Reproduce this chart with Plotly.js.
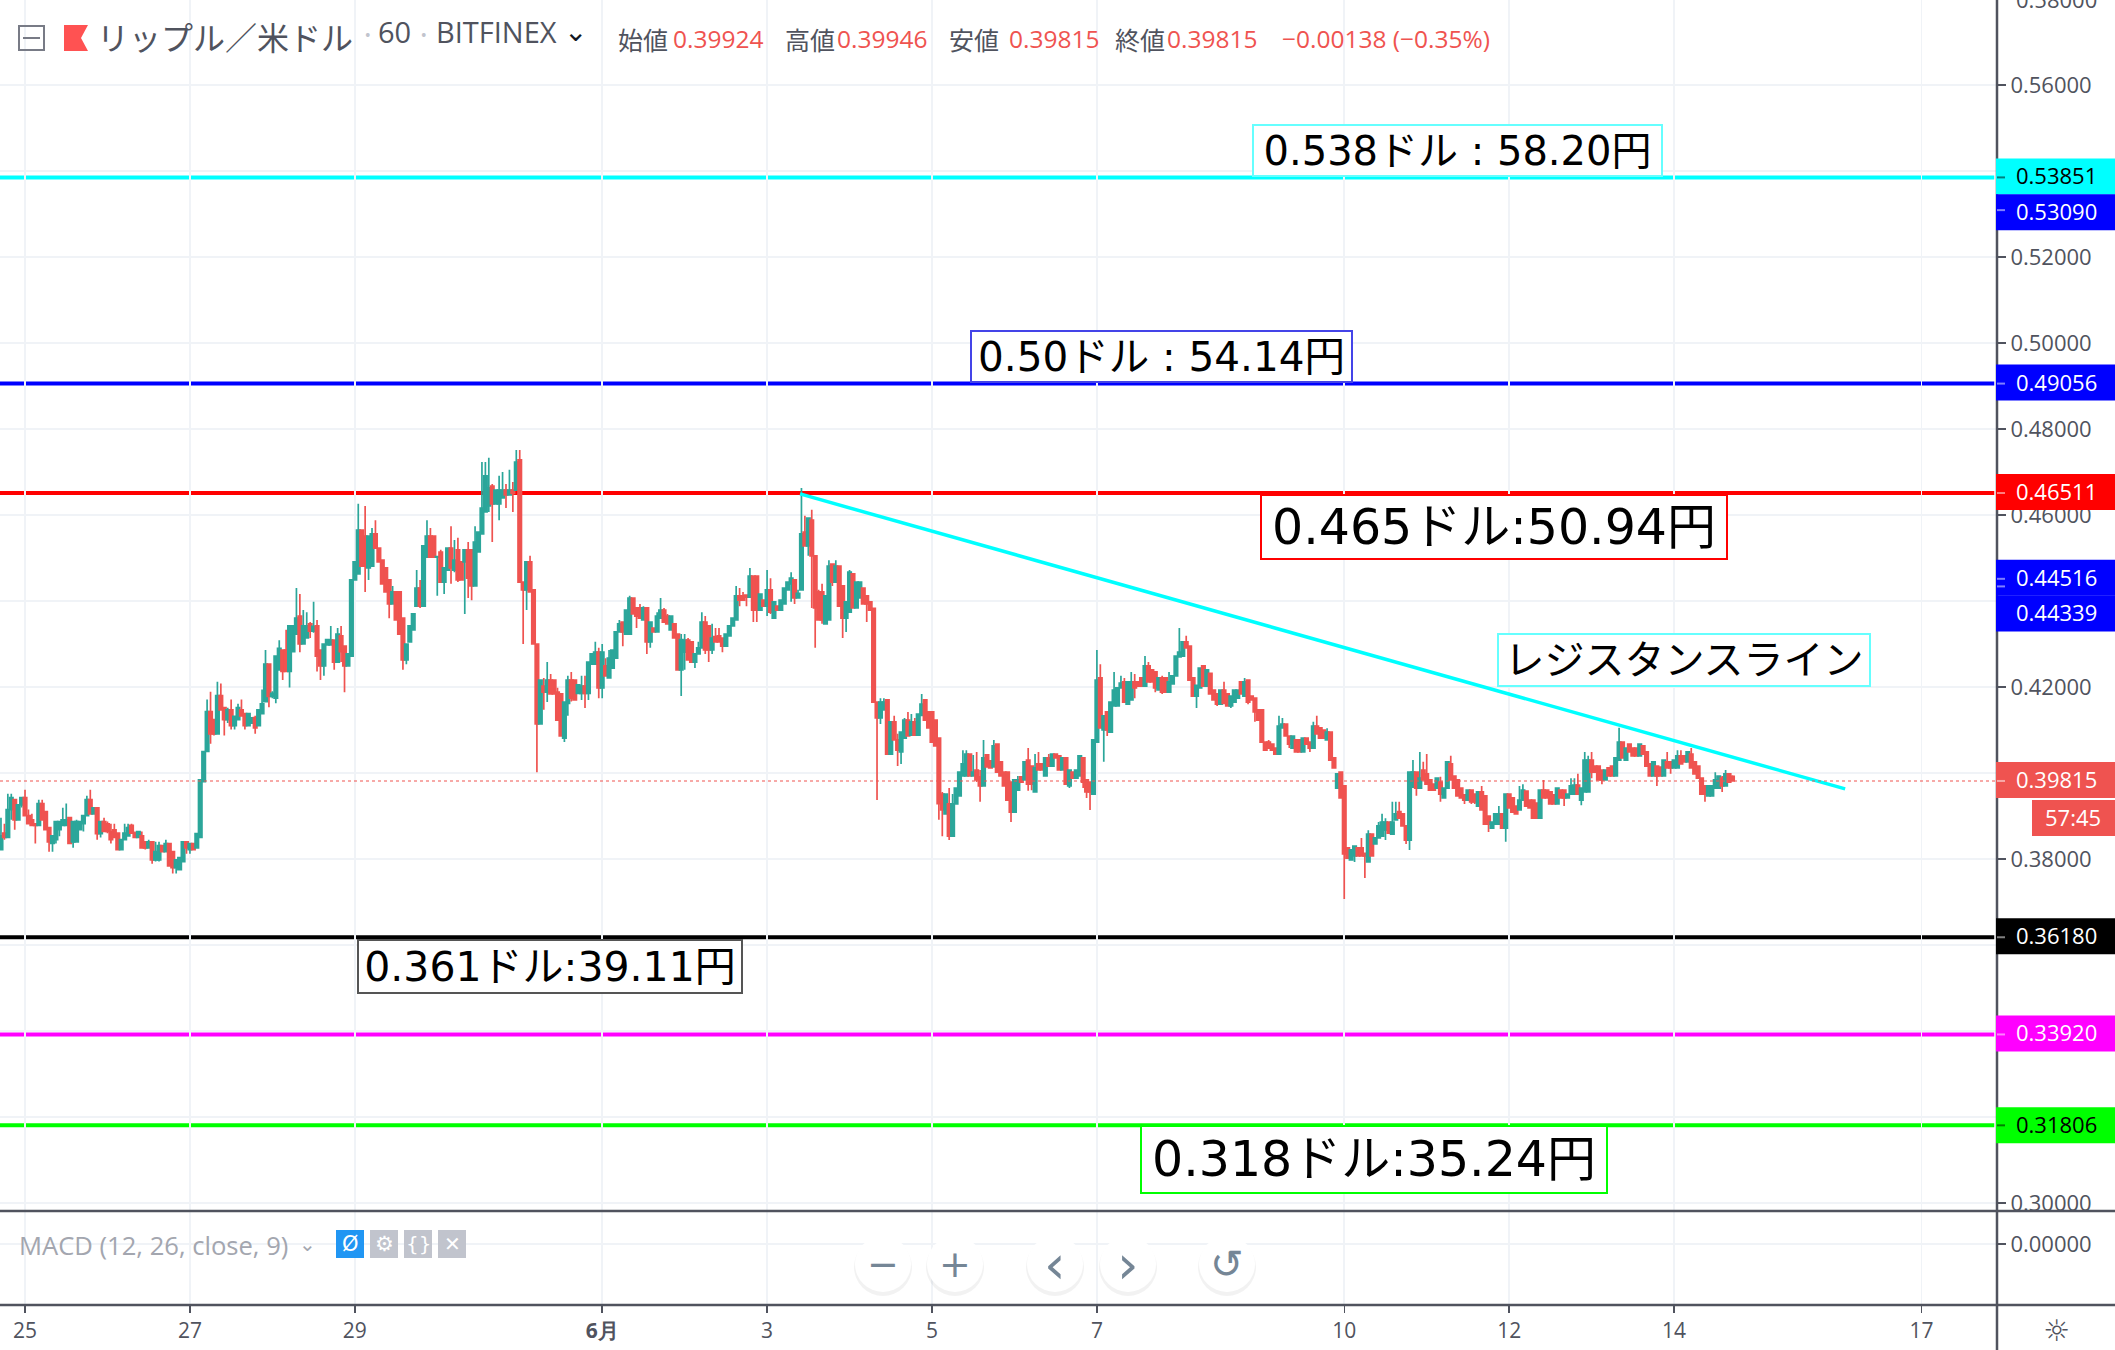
<!DOCTYPE html>
<html><head><meta charset="utf-8">
<script src="https://cdn.plot.ly/plotly-3.0.1.min.js"></script>
<style>html,body{margin:0;padding:0;background:#fff}</style></head>
<body><div id="chart" style="width:2115px;height:1350px"></div>
<script>
const opens=[
.3822,.386,.385,.3915,.3938,.3891,.3926,.3943,.3901,.3891,
.3882,.3878,.3929,.391,.3873,.3836,.3845,.3868,.3878,.3878,
.3896,.384,.384,.3868,.3882,.3901,.3938,.3905,.3919,.3859,
.3887,.3882,.3864,.3868,.386,.3822,.3845,.3854,.3878,.386,
.385,.3854,.384,.3826,.384,.3798,.3798,.3831,.3817,.3836,
.3817,.378,.3775,.3794,.384,.3822,.3836,.3826,.385,.398,
.405,.4143,.4124,.4091,.418,.4152,.4124,.4147,.411,.4124,
.4147,.4138,.411,.4116,.4129,.411,.4138,.4166,.4253,.4178,
.4174,.424,.4286,.4286,.4236,.4282,.4323,.4365,.43,.4314,
.4347,.433,.4342,.4286,.4249,.4298,.4298,.4309,.4258,.4319,
.4295,.4249,.4272,.4449,.4463,.4565,.4551,.4477,.4481,.4556,
.4523,.4495,.4477,.4449,.4393,.4421,.4421,.436,.4263,.4305,
.4333,.4388,.443,.4388,.4502,.4551,.4551,.4502,.4514,.4444,
.4472,.4523,.4472,.4519,.4491,.4491,.4519,.4519,.4435,.4514,
.4556,.4607,.4621,.4667,.4626,.4626,.464,.4658,.4647,.4658,
.4658,.4728,.4444,.4426,.4491,.4426,.43,.4114,.4202,.4188,
.4216,.4216,.4188,.4184,.4081,.4162,.4216,.4216,.4185,.4185,
.4202,.4185,.4253,.4253,.4281,.4198,.4249,.4221,.4244,.4267,
.4328,.4351,.4323,.4323,.4407,.4384,.4384,.4356,.4384,.4305,
.4337,.4328,.436,.4379,.4365,.4333,.4347,.4323,.424,.4281,
.4309,.4305,.4258,.4277,.4291,.4351,.4342,.4286,.4317,.4319,
.4314,.4295,.4319,.4342,.4356,.4412,.4412,.4414,.4409,.4458,
.4458,.4379,.4402,.4388,.4426,.436,.4388,.4379,.4393,.4426,
.444,.4449,.4407,.4426,.456,.4528,.4588,.4505,.4421,.4421,
.4347,.4356,.4486,.4444,.4481,.4435,.436,.4374,.4463,.4384,
.4407,.443,.4412,.4398,.4383,.4165,.4128,.4147,.417,.4044,
.4119,.4077,.4049,.4081,.4123,.4088,.4119,.4088,.4134,.417,
.4142,.4142,.4123,.4081,.3951,.3905,.3928,.3853,.3928,.3947,
.3993,.3993,.4044,.3993,.4007,.3991,.397,.4042,.4028,.4014,
.4067,.4026,.4002,.4002,.3979,.3909,.396,.3991,.3984,.403,
.4016,.3956,.4021,.4021,.3993,.4035,.4016,.4044,.404,.4007,
.4035,.397,.4002,.3988,.3993,.4035,.3984,.3979,.3951,.4072,
.4221,.41,.4142,.4095,.4156,.4156,.4198,.4212,.416,.417,
.4212,.4212,.4221,.4202,.4249,.424,.4235,.4193,.4221,.4221,
.4188,.4207,.4226,.427,.4272,.4305,.4295,.4221,.4179,.4198,
.4249,.4202,.4232,.4193,.4184,.416,.4193,.4184,.4156,.4165,
.4174,.4212,.4179,.4216,.4179,.4174,.4147,.4147,.4072,.4072,
.4067,.4058,.4044,.4105,.4114,.4086,.4058,.4077,.4077,.4049,
.4081,.4072,.4058,.4109,.4105,.41,.4077,.4095,.4035,.3965,
.4002,.397,.3826,.3798,.3807,.3826,.3826,.3813,.3793,.3858,
.3835,.3849,.3853,.3867,.3886,.3858,.3891,.391,.3905,.3877,
.3844,.3967,.4002,.3965,.4007,.3998,.3984,.3974,.3965,.3979,
.3942,.3965,.4021,.3993,.3984,.3965,.3949,.3937,.396,.3951,
.3923,.3956,.3947,.39,.3872,.3881,.3881,.3905,.3872,.3951,
.3942,.3923,.3914,.3937,.3958,.3937,.3937,.393,.3895,.396,
.396,.3956,.3949,.3928,.396,.396,.3942,.3951,.3951,.3972,
.3937,.3956,.3956,.403,.4016,.4016,.4007,.3984,.4012,.4016,
.3993,.403,.4072,.403,.4067,.4058,.4058,.404,.4063,.4049,
.4021,.3993,.4016,.4014,.3993,.4026,.4026,.4012,.4012,.404,
.404,.4026,.4044,.4026,.4016,.3988,.397,.3947,.3947,.3965,
.3965,.3988,.397,.3998,.39924];
const highs=[
.3896,.3882,.3952,.3952,.3938,.3926,.3943,.3961,.3915,.3905,
.3884,.3938,.3938,.391,.3873,.3854,.3887,.3887,.3919,.3929,
.3896,.3887,.3891,.3887,.3901,.3947,.3961,.3919,.3919,.3887,
.3896,.3887,.3882,.3882,.386,.3845,.3882,.3882,.3882,.3864,
.3864,.3864,.384,.3845,.384,.384,.384,.3831,.3845,.3836,
.3817,.3798,.3803,.384,.384,.3836,.3836,.3859,.3984,.405,
.4171,.4189,.4124,.4212,.4208,.4152,.4152,.4171,.4132,.4161,
.4171,.4138,.4138,.4128,.4133,.4147,.4194,.4286,.4253,.419,
.4272,.4309,.4286,.4333,.4342,.4342,.443,.4416,.4379,.4374,
.4351,.4398,.4356,.4286,.43,.431,.4342,.4309,.4337,.4342,
.4295,.4277,.4449,.4491,.4626,.4565,.4621,.4551,.457,.4588,
.4523,.4495,.4477,.4449,.4435,.4421,.4421,.436,.43,.4342,
.437,.4472,.4449,.4528,.4588,.457,.4551,.4503,.4519,.4477,
.4523,.4574,.4542,.4547,.4491,.4519,.4537,.4519,.4574,.456,
.4723,.4723,.4733,.4672,.4658,.4691,.47,.4672,.4705,.4677,
.4751,.4751,.4444,.4491,.4505,.4426,.43,.4216,.4221,.4258,
.423,.4216,.4198,.4184,.4165,.4226,.4235,.4216,.4205,.4226,
.4226,.4258,.4277,.4305,.4291,.43,.4267,.4286,.4286,.4328,
.4356,.4351,.4379,.4412,.4407,.4384,.4393,.4388,.4384,.4351,
.4337,.4374,.4407,.4384,.437,.4365,.4347,.4323,.4323,.4323,
.4314,.4305,.4277,.4305,.4374,.4365,.4342,.4347,.4337,.4337,
.4314,.4323,.4342,.436,.4435,.443,.4421,.4414,.4477,.4458,
.4458,.4416,.4402,.4472,.4453,.4398,.4388,.4402,.443,.4444,
.4467,.4449,.4418,.4663,.4598,.4593,.4612,.4505,.4426,.444,
.4412,.4495,.4486,.4495,.4481,.4435,.4398,.4472,.4463,.4444,
.4444,.443,.4412,.4398,.4383,.4165,.4174,.4174,.417,.4119,
.4133,.4091,.4095,.4128,.4142,.4137,.4128,.4137,.4184,.417,
.4142,.4142,.4123,.4081,.3956,.3951,.3965,.3951,.3965,.4002,
.4053,.4053,.4044,.4042,.4049,.4007,.4077,.4042,.4028,.4077,
.4067,.4026,.4002,.4002,.3979,.3984,.3993,.3991,.4026,.4058,
.4016,.4044,.4049,.4021,.4035,.4044,.4044,.4044,.404,.4035,
.4035,.4007,.4002,.4007,.404,.4035,.3984,.3979,.4077,.4286,
.4253,.4133,.4142,.4165,.4235,.4198,.4226,.4221,.4212,.4235,
.423,.4212,.4221,.4272,.4258,.424,.4235,.4221,.4226,.4221,
.4235,.4226,.4272,.4337,.4305,.4319,.4295,.4221,.4204,.4244,
.4249,.424,.4232,.4193,.4184,.4193,.4212,.4184,.4179,.4193,
.4193,.4212,.4221,.4216,.4179,.4174,.4147,.4147,.4072,.4077,
.4067,.4058,.4133,.4128,.4114,.4086,.4086,.4077,.4077,.4081,
.4081,.4072,.4119,.4133,.4105,.41,.4104,.4095,.4035,.3998,
.4002,.397,.3826,.3821,.383,.3826,.3849,.3813,.3867,.3858,
.3849,.3886,.3905,.3895,.3886,.3933,.3933,.3933,.3905,.3877,
.4002,.403,.4002,.4049,.4026,.4044,.3984,.3974,.3988,.3991,
.3965,.4026,.404,.3993,.3984,.3965,.3949,.396,.396,.3951,
.3956,.397,.3947,.39,.3886,.3905,.3923,.3905,.3951,.3951,
.3942,.3923,.397,.3974,.3958,.3937,.3937,.393,.396,.3984,
.396,.3956,.3949,.3965,.396,.396,.3951,.3988,.3988,.3998,
.3965,.4049,.404,.4049,.4016,.4016,.4007,.4007,.4012,.4016,
.4035,.4105,.4072,.4058,.4067,.4058,.4058,.4067,.4063,.4049,
.4021,.4026,.4016,.4014,.403,.4049,.4026,.403,.4053,.4053,
.404,.4049,.4058,.4026,.4016,.3988,.397,.397,.397,.4002,
.3993,.3993,.4007,.3998,.39946];
const lows=[
.3822,.3845,.385,.3891,.3868,.3891,.392,.3901,.3882,.3878,
.3836,.3878,.3891,.3868,.3817,.3817,.3836,.3853,.3878,.3878,
.3836,.3826,.384,.3868,.3864,.3901,.3905,.3905,.3845,.385,
.3864,.386,.3836,.385,.3822,.3822,.3845,.3854,.386,.385,
.385,.3826,.3822,.3826,.3789,.3794,.3794,.3817,.3817,.3784,
.3766,.3766,.3775,.3794,.3812,.3812,.3822,.3826,.385,.398,
.405,.4068,.4087,.4091,.4147,.4087,.4116,.4101,.4101,.4124,
.4133,.4101,.411,.4116,.4091,.411,.4138,.4166,.4153,.4174,
.4162,.424,.4216,.4236,.4199,.4282,.4323,.4281,.43,.4314,
.4314,.4326,.4236,.4216,.4226,.4298,.4298,.424,.4258,.4258,
.4188,.4249,.4272,.4449,.4463,.4481,.4421,.4449,.4481,.4523,
.4491,.444,.4421,.436,.4393,.4356,.4323,.424,.4253,.4305,
.4333,.4388,.4384,.4388,.4502,.4502,.4502,.4412,.4444,.4416,
.4472,.444,.4467,.4444,.4449,.437,.4407,.4402,.4435,.4514,
.4556,.4607,.4607,.4537,.4626,.4588,.464,.4616,.4647,.4607,
.4658,.4444,.43,.4379,.4421,.43,.4002,.4114,.4147,.4165,
.4184,.4184,.4123,.4086,.4072,.4133,.4166,.417,.4185,.417,
.4151,.417,.4253,.4253,.4174,.4174,.4226,.4221,.4244,.4267,
.4328,.4295,.4323,.4323,.437,.4337,.436,.4356,.4277,.4291,
.4328,.4328,.436,.4351,.4351,.4347,.4314,.4314,.4179,.424,
.4263,.4258,.4244,.4277,.4291,.4277,.4258,.4277,.4305,.4305,
.4281,.4295,.4319,.4342,.4356,.4388,.4402,.4388,.4409,.4351,
.4351,.4379,.4388,.4365,.437,.436,.4379,.4393,.4426,.444,
.4398,.4393,.4426,.4528,.4528,.4505,.4384,.4291,.4356,.4347,
.4347,.4356,.4435,.4444,.4388,.4314,.4328,.4374,.4384,.4384,
.4407,.4393,.4351,.4379,.4165,.3937,.4114,.4147,.4044,.4044,
.4077,.4016,.4021,.4081,.4086,.4088,.4086,.4088,.4134,.4123,
.4105,.4072,.4063,.3891,.3853,.3905,.3844,.3853,.3928,.3947,
.3993,.3993,.3993,.3993,.3979,.3933,.397,.4014,.4012,.4014,
.4002,.3993,.397,.3937,.3886,.3909,.396,.3979,.3984,.3959,
.396,.3956,.4007,.4007,.3993,.4016,.4016,.4035,.4007,.4007,
.3974,.3965,.3988,.3988,.3993,.3965,.3942,.3914,.3951,.4072,
.4105,.4026,.4086,.4095,.4156,.4156,.4198,.4165,.416,.417,
.4174,.4202,.4202,.4202,.4212,.4212,.4188,.4193,.4184,.4188,
.4188,.4207,.4226,.427,.4272,.4291,.4216,.4179,.4151,.4198,
.4202,.4202,.4184,.417,.4156,.416,.4162,.4156,.4151,.4165,
.4174,.4184,.4179,.416,.417,.4119,.4123,.4072,.4053,.4058,
.4053,.4044,.4044,.4105,.4086,.4058,.4058,.4049,.4049,.4049,
.4067,.4049,.4058,.4091,.4081,.4081,.4077,.403,.4012,.3965,
.3942,.3707,.3802,.3798,.3793,.3807,.3807,.3756,.3793,.3807,
.3835,.3849,.3853,.3844,.386,.3858,.3891,.3895,.3877,.3835,
.3821,.3967,.3947,.3965,.3984,.3974,.396,.396,.3965,.3933,
.3942,.3965,.3984,.3965,.3947,.3942,.3928,.3937,.3928,.3928,
.3923,.3914,.3881,.3863,.3872,.3881,.3881,.3872,.384,.3919,
.3909,.3905,.3914,.3937,.3923,.3919,.3895,.3895,.3895,.3942,
.3942,.3928,.3928,.3928,.3942,.3923,.3942,.3951,.3951,.3951,
.3925,.3956,.3956,.3988,.4002,.3984,.3974,.3984,.3993,.3993,
.3993,.403,.4035,.403,.4049,.404,.404,.404,.4044,.4016,
.3993,.3993,.397,.3993,.3993,.4012,.3998,.4012,.4012,.4021,
.4026,.4026,.4012,.3998,.3988,.3951,.3933,.3947,.3947,.3965,
.3965,.3956,.397,.3979,.39815];
const closes=[
.3854,.385,.3915,.3943,.3891,.3926,.3943,.3901,.3882,.3878,
.3878,.3929,.3891,.3868,.384,.3854,.3887,.3887,.3891,.3891,
.3836,.3887,.3887,.3887,.3901,.3938,.3905,.3919,.3859,.3887,
.3864,.3864,.3845,.385,.3822,.3845,.386,.3873,.386,.385,
.3864,.3826,.3826,.384,.3798,.3817,.3831,.3817,.3836,.3784,
.378,.3798,.3803,.384,.3826,.3836,.3822,.3859,.3984,.405,
.4143,.4091,.4091,.418,.4147,.4124,.4147,.411,.4132,.4152,
.4133,.411,.4138,.4128,.4105,.4147,.4161,.4253,.4178,.4185,
.4272,.429,.4236,.4236,.4342,.4342,.436,.43,.4342,.4342,
.433,.4341,.4272,.4249,.43,.431,.4309,.4258,.4323,.4282,
.4249,.4277,.4449,.4491,.4565,.4481,.4481,.4551,.4556,.4523,
.4491,.444,.4421,.4393,.4421,.4356,.4323,.4263,.43,.4342,
.437,.443,.4388,.4528,.4551,.4502,.4502,.4503,.4444,.4477,
.4523,.4477,.4495,.4449,.4449,.4519,.4453,.4435,.4537,.456,
.4616,.4691,.4663,.4626,.4658,.4658,.4658,.4647,.4658,.465,
.4723,.4444,.4426,.4491,.4421,.43,.4114,.4216,.4188,.4216,
.4184,.4184,.4123,.4086,.4165,.4216,.4174,.417,.4205,.4202,
.4185,.4258,.4277,.4281,.4198,.4281,.4226,.4267,.4286,.4328,
.4347,.4328,.4379,.4407,.437,.4365,.436,.4384,.4305,.4351,
.4328,.4365,.4379,.4351,.4347,.4365,.4314,.424,.431,.4309,
.4263,.4258,.4277,.4291,.4351,.4286,.4286,.4314,.4305,.4305,
.4295,.4323,.4342,.436,.4412,.4402,.4402,.4409,.4458,.4379,
.4379,.4416,.4388,.4426,.4374,.4398,.4379,.4402,.443,.4444,
.4453,.4407,.4418,.4556,.4528,.4593,.4505,.4384,.4356,.4356,
.4412,.4481,.4444,.4481,.4388,.436,.4398,.4467,.4384,.4444,
.4444,.4393,.4393,.4379,.4165,.4128,.4165,.4165,.4044,.4119,
.4077,.4053,.4095,.4123,.4086,.4119,.4088,.4137,.416,.4123,
.4105,.4072,.4063,.3929,.3914,.3951,.3853,.3928,.3965,.4002,
.4021,.4044,.3993,.4002,.3984,.397,.4035,.4014,.4012,.4063,
.4002,.3993,.397,.3937,.3909,.3984,.3984,.3979,.4026,.3974,
.3974,.4012,.4007,.4007,.4035,.4016,.4044,.4035,.4007,.4035,
.3974,.4007,.3988,.4007,.404,.3979,.3956,.3956,.4077,.4216,
.4105,.4133,.41,.4165,.4193,.4198,.4209,.4165,.4212,.4212,
.4198,.4202,.4202,.4249,.4212,.4212,.4198,.4221,.4188,.4188,
.4212,.4226,.4272,.4281,.4305,.4291,.4216,.4179,.4204,.4244,
.4202,.424,.4184,.417,.416,.4193,.4162,.4156,.4179,.4193,
.4193,.4184,.4212,.4165,.417,.4142,.4123,.4072,.4053,.4058,
.4053,.4044,.4109,.4114,.4086,.4067,.4086,.4049,.4049,.4081,
.4067,.4058,.4109,.4091,.4081,.4081,.4095,.403,.4012,.3998,
.3942,.3812,.3802,.3821,.383,.3807,.3807,.3807,.3858,.3807,
.3849,.3877,.3886,.3886,.386,.3886,.3905,.3895,.3877,.3844,
.4002,.4002,.3965,.3988,.3984,.3974,.396,.396,.3988,.3951,
.3965,.4026,.3984,.3965,.3947,.3942,.3937,.396,.3933,.3933,
.3956,.3914,.3881,.3881,.3886,.3905,.3905,.3872,.3951,.3919,
.3909,.3905,.3937,.396,.3923,.3919,.3895,.3895,.396,.3942,
.3942,.3928,.3928,.3965,.3942,.3942,.3951,.397,.3972,.3951,
.3965,.403,.403,.4002,.4002,.3984,.3984,.4007,.3993,.3993,
.4035,.4072,.4035,.4058,.4049,.404,.404,.4067,.4044,.4016,
.3993,.4026,.3993,.3993,.403,.4012,.4012,.403,.404,.4021,
.4026,.4049,.4012,.3998,.3988,.3951,.3951,.397,.397,.3984,
.3993,.397,.3998,.3979,.39815];

const tickDates=['2019-05-25','2019-05-27','2019-05-29','2019-06-01','2019-06-03','2019-06-05','2019-06-07','2019-06-10','2019-06-12','2019-06-14','2019-06-17'];
const tickNames=['25','27','29','<b>6月</b>','3','5','7','10','12','14','17'];
const priceTicks=[.30,.32,.34,.36,.38,.40,.42,.44,.46,.48,.50,.52,.54,.56];
const priceTickLabels=['0.30000','','','','0.38000','','0.42000','','0.46000','0.48000','0.50000','0.52000','','0.56000'];
const tagValues=[.53851,.5309,.49056,.46511,.44516,.44339,.39815,.3618,.3392,.31806];
const tagFills=['#00ffff','#0000ff','#0000ff','#ff0000','#0000ff','#0000ff','#ef5350','#000000','#ff00ff','#00ff00'];
const tagInks=['#000000','#ffffff','#ffffff','#ffffff','#ffffff','#ffffff','#ffffff','#ffffff','#ffffff','#000000'];
const tagShifts=[-1,2,-1,-1,-1,27,-1,-1,-1,0];
const levelValues=[.53851,.49056,.46511,.3618,.3392,.31806];
const levelColors=['#00ffff','#0000ff','#ff0000','#000000','#ff00ff','#00ff00'];
const trendTimes=['2019-06-03 09:36','2019-06-16 01:48'];
const trendPrices=[.4649,.3963];
const notes=[
 ['0.538ドル : 58.20円','#66ffff',1252,124,411,53,40],
 ['0.50ドル : 54.14円','#4444e8',970,330,383,53,40.5],
 ['0.465ドル:50.94円','#ff0000',1260,494,468,66,49],
 ['レジスタンスライン','#66ffff',1497,633,374,54,40],
 ['0.361ドル:39.11円','#555555',357,939,386,55,41],
 ['0.318ドル:35.24円','#00ff00',1140,1125,468,69,49]
];

const W=2115,H=1350,axisX=1997,paneBottom=1211,subBottom=1305;
const px=x=>x/W, py=y=>1-y/H;
const CJK='"Noto Sans CJK JP", sans-serif', LAT='"Open Sans", sans-serif', NOTE='"DejaVu Sans","Noto Sans CJK JP", sans-serif';
const pxPerUnit=4300;
const yTop=.56+85/pxPerUnit, yBottom=.56-(paneBottom-85)/pxPerUnit;
const start=Date.UTC(2019,4,24,17);
const hour=3600000;
const stamp=ms=>new Date(ms).toISOString().slice(0,16).replace('T',' ');
const times=opens.map((_,i)=>stamp(start+i*hour));
const may25=Date.UTC(2019,4,25);
const xLeft=stamp(may25-7.28*hour), xRight=stamp(may25+574*hour), lineEnd=stamp(may25+573.2*hour);

const candle={type:'candlestick',x:times,open:opens,high:highs,low:lows,close:closes,xaxis:'x',yaxis:'y',
 increasing:{line:{color:'#2ba69a',width:1.7},fillcolor:'#2ba69a'},
 decreasing:{line:{color:'#ef5350',width:1.7},fillcolor:'#ef5350'},
 whiskerwidth:0,hoverinfo:'skip',showlegend:false};
const trend={type:'scatter',mode:'lines',x:trendTimes,y:trendPrices,xaxis:'x',yaxis:'y',line:{color:'#00ffff',width:3.5},hoverinfo:'skip',showlegend:false};
const macd={type:'scatter',mode:'lines',x:[times[0]],y:[0],xaxis:'x',yaxis:'y2',line:{color:'rgba(0,0,0,0)'},hoverinfo:'skip',showlegend:false};

const shapes=[];
levelValues.forEach((v,i)=>shapes.push({type:'line',layer:'below',xref:'x',yref:'y',x0:xLeft,x1:lineEnd,y0:v,y1:v,line:{color:levelColors[i],width:4}}));
shapes.push({type:'line',layer:'above',xref:'x',yref:'y',x0:xLeft,x1:xRight,y0:.39815,y1:.39815,line:{color:'rgba(239,83,80,.5)',width:2,dash:'dot'}});
const pline=(x0,y0,x1,y1,c,w)=>({type:'line',xref:'paper',yref:'paper',x0:px(x0),x1:px(x1),y0:py(y0),y1:py(y1),line:{color:c,width:w}});
const prect=(x0,y0,x1,y1,f,c,w)=>({type:'rect',xref:'paper',yref:'paper',x0:px(x0),x1:px(x1),y0:py(y0),y1:py(y1),fillcolor:f,line:{color:c||f,width:w||0}});
const pcirc=(cx,cy,r,f,c,w)=>({type:'circle',xref:'paper',yref:'paper',x0:px(cx-r),x1:px(cx+r),y0:py(cy-r),y1:py(cy+r),fillcolor:f,line:{color:c||f,width:w||0}});
shapes.push(pline(0,paneBottom,W,paneBottom,'#50535e',2.5));
shapes.push(pline(0,subBottom,W,subBottom,'#50535e',2.5));
shapes.push(pline(axisX,0,axisX,H,'#50535e',2.5));
tagValues.forEach((v,i)=>{
 const s=tagShifts[i];
 shapes.push({type:'rect',xref:'paper',yref:'y',x0:px(1996),x1:1,y0:v-(s+18)/pxPerUnit,y1:v-(s-18)/pxPerUnit,fillcolor:tagFills[i],line:{width:0}});
 shapes.push({type:'line',xref:'paper',yref:'y',x0:px(1997),x1:px(2005),y0:v,y1:v,line:{color:tagInks[i],width:2},opacity:.5});
});
shapes.push(prect(2032,800,W,836,'#ef5350'));
// header icons
shapes.push(prect(19,26,44,50,'rgba(0,0,0,0)','#787b86',2));
shapes.push(pline(23,38,40,38,'#787b86',2));
shapes.push({type:'path',xref:'paper',yref:'paper',path:`M${px(64)},${py(25)} L${px(88)},${py(25)} L${px(81)},${py(38)} L${px(88)},${py(51)} L${px(64)},${py(51)} Z`,fillcolor:'#ff5252',line:{width:0}});
// macd buttons
[[336,'#2196f3'],[370,'#c1c4cd'],[404,'#c1c4cd'],[438,'#c1c4cd']].forEach(b=>shapes.push(prect(b[0],1230,b[0]+28,1258,b[1])));
// nav buttons
const navX=[883,955,1055,1128,1227];
navX.forEach(x=>{shapes.push(pcirc(x,1267,29,'rgba(0,0,0,.05)'));shapes.push(pcirc(x,1264,28,'#ffffff'));});

const ann=[];
const T=(x,y,text,size,color,anchor,family)=>ann.push({xref:'paper',yref:'paper',x:px(x),y:py(y),text,showarrow:false,xanchor:anchor||'left',yanchor:'middle',font:{size,color,family:family||CJK}});
T(95,36,'リップル／米ドル',32,'#50535e');
T(358,33,'·',28,'#c1c4cd');
T(376,32,'60',29,'#50535e','left',LAT);
T(414,33,'·',28,'#c1c4cd');
T(434,32,'BITFINEX',29,'#50535e','left',LAT);
T(575,31,'⌄',28,'#131722','center','"DejaVu Sans"');
[['始値',616,'0.39924',671],['高値',783,'0.39946',835],['安値',947,'0.39815',1007],['終値',1113,'0.39815',1165]].forEach(r=>{
 T(r[1],39,r[0],25,'#50535e');
 T(r[3],39,r[2],24.5,'#ef5350','left',LAT);
});
T(1280,39,'−0.00138 (−0.35%)',24.5,'#ef5350','left',LAT);
T(17,1245,'MACD (12, 26, close, 9)',25.6,'#a3a6af','left',LAT);
T(307,1244,'⌄',20,'#a3a6af','center','"DejaVu Sans"');
T(350,1244,'Ø',21,'#ffffff','center','"DejaVu Sans"');
T(384,1244,'⚙',21,'#ffffff','center','"DejaVu Sans"');
T(418,1244,'{}',20,'#ffffff','center','"DejaVu Sans"');
T(452,1244,'✕',20,'#ffffff','center','"DejaVu Sans"');
['−','+','‹','›','↺'].forEach((g,i)=>T(navX[i],1264,g,i==2||i==3?54:i==4?40:38,'#758696','center','"DejaVu Sans"'));
T(2056,1330,'☼',30,'#50535e','center','"DejaVu Sans"');
T(2056,-1,'0.58000',22,'#50535e','center',LAT);
T(2073,817,'57:45',22,'#ffffff','center',LAT);
tagValues.forEach((v,i)=>ann.push({xref:'paper',yref:'y',x:px(2056),y:v,yshift:-tagShifts[i]+1,text:tagValues[i].toFixed(5),showarrow:false,xanchor:'center',yanchor:'middle',font:{size:22,color:tagInks[i],family:LAT}}));
notes.forEach(n=>ann.push({xref:'paper',yref:'paper',x:px(n[2]),y:py(n[3]),width:n[4]-4,height:n[5]-4,xanchor:'left',yanchor:'top',align:'center',valign:'middle',text:n[0],showarrow:false,bgcolor:'#ffffff',bordercolor:n[1],borderwidth:2,borderpad:0,font:{size:n[6],color:'#000000',family:NOTE}}));

const layout={width:W,height:H,margin:{l:0,r:0,t:0,b:0},paper_bgcolor:'#fff',plot_bgcolor:'#fff',showlegend:false,boxgap:0,boxgroupgap:0,
 xaxis:{type:'date',domain:[0,axisX/W],anchor:'y2',range:[xLeft,xRight],rangeslider:{visible:false},tickmode:'array',tickvals:tickDates,ticktext:tickNames,
  showgrid:true,gridcolor:'#f0f3f7',gridwidth:1.6,ticks:'outside',ticklen:7,tickwidth:1.5,tickcolor:'#50535e',showline:false,zeroline:false,automargin:false,
  tickangle:0,tickfont:{size:21,color:'#50535e',family:LAT}},
 yaxis:{domain:[1-paneBottom/H,1],anchor:'x',side:'right',range:[yBottom,yTop],tickmode:'array',tickvals:priceTicks,ticktext:priceTickLabels,
  showgrid:true,gridcolor:'#f0f3f7',gridwidth:1.6,ticks:'outside',ticklen:8,tickwidth:2,tickcolor:'#50535e',showline:false,zeroline:false,automargin:false,
  tickfont:{size:22,color:'#50535e',family:LAT}},
 yaxis2:{domain:[1-subBottom/H,1-paneBottom/H],anchor:'x',side:'right',range:[-61,33],tickmode:'array',tickvals:[0],ticktext:['0.00000'],
  showgrid:true,gridcolor:'#f0f3f7',gridwidth:1.6,ticks:'outside',ticklen:8,tickwidth:2,tickcolor:'#50535e',showline:false,zeroline:false,automargin:false,
  tickfont:{size:22,color:'#50535e',family:LAT}},
 shapes,annotations:ann};
Plotly.newPlot('chart',[candle,trend,macd],layout,{displayModeBar:false,staticPlot:true});
</script></body></html>
